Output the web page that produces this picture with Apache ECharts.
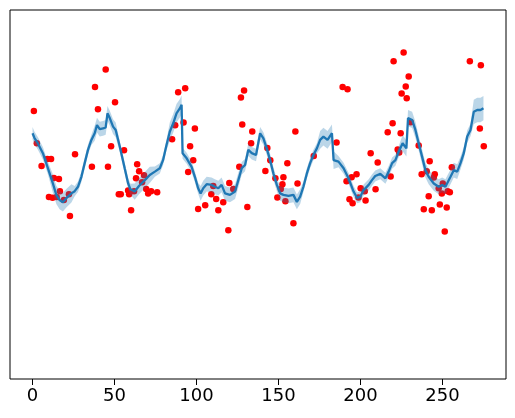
<!DOCTYPE html>
<html>
<head>
<meta charset="utf-8">
<script src="https://cdn.jsdelivr.net/npm/echarts@6/dist/echarts.min.js"></script>
<style>html,body{margin:0;padding:0;background:#fff;}#chart{width:515px;height:418px;}</style>
</head>
<body>
<div id="chart"></div>
<script>
var xTicks = [0, 50, 100, 150, 200, 250];

var scatterX = [0.8,2.6,5.5,9.0,11.3,13.0,16.1,10.0,12.2,14.7,16.7,19.1,22.2,22.8,25.9,36.2,38.1,39.9,44.6,46.0,47.9,50.3,52.6,53.8,55.8,58.3,58.9,60.1,63.8,65.0,63.1,68.0,66.8,61.9,69.3,70.5,72.3,76.0,85.1,87.0,88.8,93.1,92.1,99.0,96.1,98.0,94.9,101.0,105.3,110.2,109.0,112.0,113.3,116.3,120.0,122.4,119.4,126.1,127.9,127.1,129.0,134.0,133.3,131.0,143.2,145.0,142.0,160.3,155.4,148.1,153.0,152.4,151.4,149.3,154.2,161.6,159.1,171.5,189.1,192.1,185.4,206.2,210.5,197.6,194.6,191.5,200.1,202.6,209.2,193.3,195.2,198.8,203.1,218.4,216.6,219.6,220.2,226.3,229.4,227.6,225.1,228.2,224.5,222.7,223.6,230.6,235.5,242.2,240.4,237.3,245.3,244.7,250.2,247.7,249.6,253.2,254.5,255.7,241.6,238.6,243.5,248.4,252.6,251.4,266.7,273.4,272.8,275.2];
var scatterY = [7.26,6.39,5.77,5.96,5.96,5.45,5.42,4.93,4.91,4.93,5.09,4.85,5.01,4.42,6.09,5.75,7.91,7.31,8.39,5.75,6.31,7.50,5.01,5.01,6.20,5.11,5.01,4.57,5.82,5.63,5.44,5.52,5.33,5.09,5.15,5.03,5.09,5.06,6.50,6.88,7.77,7.88,6.95,6.79,6.31,5.93,5.61,4.61,4.71,5.23,5.01,4.88,4.57,4.79,5.31,5.15,4.03,5.75,6.90,7.63,7.82,6.71,6.39,4.66,6.26,5.93,5.64,6.71,5.85,5.44,5.47,5.28,5.15,4.92,4.82,5.30,4.22,6.04,7.91,7.85,6.41,6.12,5.87,5.55,5.47,5.36,5.17,5.09,5.14,4.87,4.76,4.92,4.84,5.49,6.69,6.93,8.61,8.85,8.20,7.93,7.74,7.61,6.66,6.22,6.14,6.96,6.33,5.90,5.63,5.55,5.55,5.46,5.30,5.17,5.03,5.09,5.06,5.74,4.95,4.60,4.57,4.73,4.65,4.00,8.61,8.50,6.79,6.31];

var lineX = [0,1.2,3.2,6.3,9.4,12.4,14.5,16.5,18.5,20.6,23.7,25.7,27.7,29.8,31.8,33.8,35.9,37.9,39.3,41.0,43.0,44.6,45.7,47.1,49.1,50.7,53.2,56.2,58.3,59.7,62.3,64.9,68.5,71.5,74.6,77.6,79.6,81.7,83.7,85.8,87.8,89.9,90.9,91.5,94.0,97.0,99.0,101.0,102.5,104.1,106.2,109.2,111.2,113.3,115.3,117.4,120.4,123.5,125.5,127.6,129.6,131.6,133.7,136.3,138.8,140.8,142.8,144.9,146.9,149.0,151.0,153.0,156.1,159.1,161.2,163.2,165.2,167.3,169.3,171.3,173.4,175.4,177.4,179.9,182.6,183.6,186.6,189.7,192.7,195.8,197.9,199.9,201.9,205.0,207.0,209.0,212.1,215.2,217.2,219.3,221.3,223.3,225.7,228.0,229.0,231.5,233.5,235.5,237.6,239.6,241.6,244.7,247.7,249.8,251.8,254.9,256.9,259.0,261.0,263.0,265.1,267.1,269.1,271.2,273.2,275];
var lineY = [6.66,6.53,6.39,6.12,5.71,5.30,4.99,4.85,4.79,4.90,5.03,5.09,5.21,5.48,5.85,6.21,6.48,6.66,6.88,6.77,6.79,6.82,7.20,7.07,6.84,6.75,6.30,5.71,5.30,5.14,5.08,5.23,5.39,5.53,5.62,5.71,5.93,6.34,6.70,6.93,7.20,7.34,7.43,6.12,5.98,5.75,5.48,5.17,5.03,5.17,5.28,5.26,5.21,5.17,5.26,5.03,4.99,5.08,5.39,5.71,5.80,6.21,6.12,6.07,6.66,6.52,6.25,5.93,5.57,5.26,5.03,4.99,4.96,4.99,4.80,4.94,5.21,5.57,5.85,6.07,6.25,6.48,6.57,6.48,6.66,5.93,5.89,5.71,5.44,5.08,4.91,4.94,5.12,5.26,5.39,5.50,5.56,5.44,5.62,5.85,5.93,6.16,6.39,6.25,7.07,7.02,6.75,6.39,6.02,5.66,5.48,5.30,5.21,5.26,5.21,5.48,5.66,5.62,5.85,6.12,6.57,6.75,7.24,7.29,7.29,7.34];
var bandSpread = [0.17,0.17,0.17,0.17,0.17,
0.25,0.25,0.25,0.25,0.25,0.25,
0.14,0.14,0.14,0.14,0.14,0.14,
0.2,0.2,0.2,0.2,0.2,0.2,0.2,0.2,0.2,
0.15,0.15,0.15,0.15,
0.22,0.22,0.22,0.22,
0.14,0.14,0.14,0.14,
0.25,0.25,0.25,0.25,0.25,
0.15,0.15,0.15,0.15,0.15,
0.2,0.2,0.2,0.2,0.2,0.2,0.2,0.2,0.2,0.2,0.2,
0.17,0.17,0.17,0.17,0.17,0.17,0.17,0.17,0.17,0.17,0.17,
0.2,0.2,0.2,0.2,0.2,0.2,
0.14,0.14,0.14,0.14,0.14,
0.24,0.24,0.24,0.24,0.24,
0.15,0.15,0.15,0.15,0.15,0.15,0.15,0.15,0.15,0.15,0.15,0.15,0.15,0.15,0.15,0.15,
0.22,0.22,0.22,0.22,0.22,
0.2,0.2,0.2,0.2,0.2,0.2,0.2,0.2,0.2,0.2,0.2,
0.17,0.17,0.17,0.17,
0.33,0.33,0.33,0.33];

var scatterData = scatterX.map(function (x, i) { return [x, scatterY[i]]; });
var lineData = lineX.map(function (x, i) { return [x, lineY[i]]; });
var bandData = lineX.map(function (x, i) { return [x, lineY[i] - bandSpread[i], lineY[i] + bandSpread[i]]; });

var chart = echarts.init(document.getElementById('chart'), null, { renderer: 'canvas' });
chart.setOption({
  animation: false,
  backgroundColor: '#ffffff',
  grid: { left: 10, right: 9, top: 10, bottom: 39, show: true, borderColor: '#000', borderWidth: 1, backgroundColor: 'transparent' },
  xAxis: {
    type: 'value', min: -13.75, max: 288.75,
    axisLine: { show: false },
    splitLine: { show: false },
    axisTick: { show: true, length: 6, inside: false, customValues: xTicks, lineStyle: { color: '#000', width: 1 } },
    axisLabel: { show: true, customValues: xTicks, margin: 8, color: '#000', fontSize: 18, fontFamily: 'DejaVu Sans' }
  },
  yAxis: {
    type: 'value', min: 0, max: 10,
    axisLine: { show: false }, axisTick: { show: false }, axisLabel: { show: false }, splitLine: { show: false }
  },
  series: [
    {
      type: 'scatter', data: scatterData, symbol: 'circle', symbolSize: 6.5, z: 1,
      itemStyle: { color: '#ff0000', opacity: 1 }
    },
    {
      type: 'custom', z: 2, data: bandData,
      encode: { x: 0, y: [1, 2] },
      renderItem: function (params, api) {
        if (params.dataIndex !== 0) return null;
        var pts = [];
        for (var i = 0; i < bandData.length; i++) pts.push(api.coord([bandData[i][0], bandData[i][2]]));
        for (var j = bandData.length - 1; j >= 0; j--) pts.push(api.coord([bandData[j][0], bandData[j][1]]));
        return { type: 'polygon', shape: { points: pts }, style: { fill: 'rgba(31,119,180,0.3)' } };
      }
    },
    {
      type: 'line', data: lineData, showSymbol: false, symbol: 'none', z: 3,
      lineStyle: { color: '#1f77b4', width: 2.3 }
    }
  ]
});
</script>
</body>
</html>
